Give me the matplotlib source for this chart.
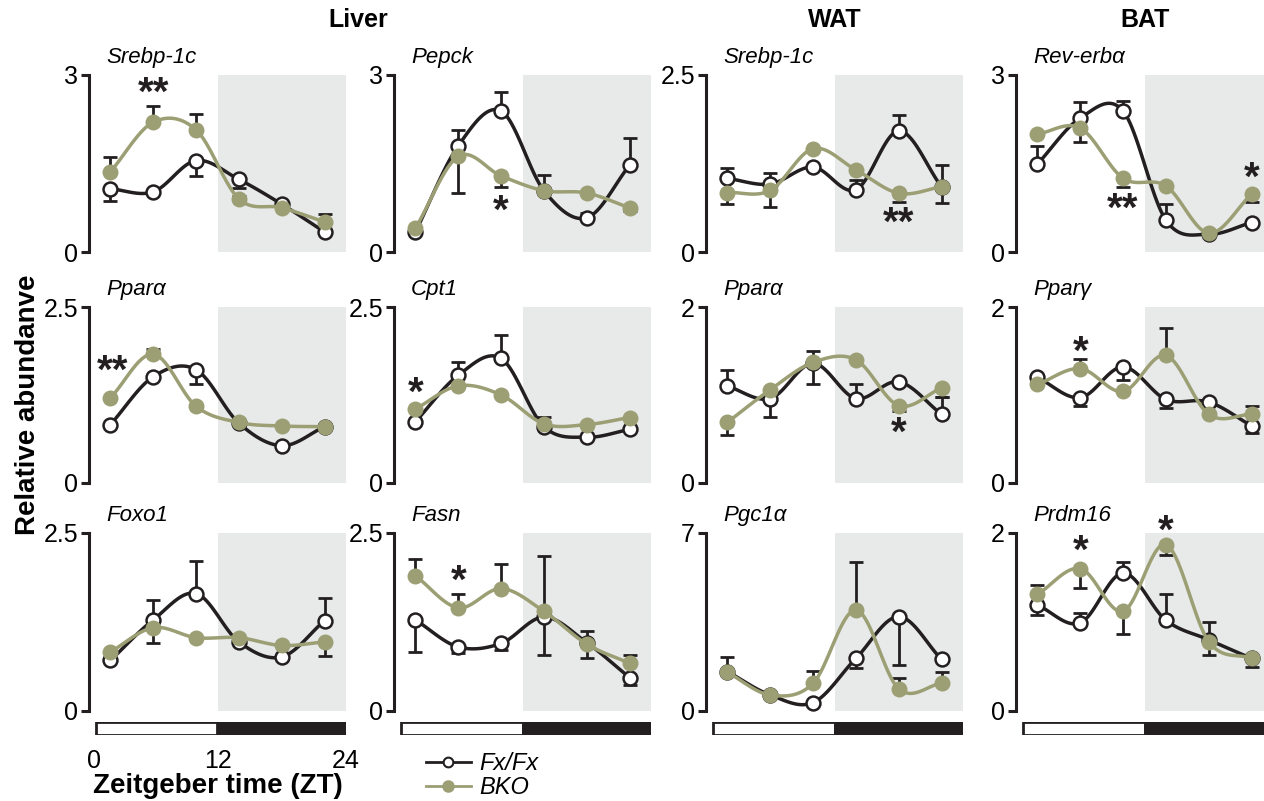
import matplotlib
matplotlib.use("Agg")
import matplotlib.pyplot as plt
from matplotlib.lines import Line2D
import matplotlib.transforms as mtransforms
import numpy as np

plt.rcParams['font.family'] = ['Liberation Sans', 'DejaVu Sans']

# sampling times (ZT)
zt = [2, 6, 10, 14, 18, 22]

# panel layout: rows x cols
genes = [["Srebp-1c", "Pepck", "Srebp-1c", "Rev-erbα"],
         ["Pparα", "Cpt1", "Pparα", "Pparγ"],
         ["Foxo1", "Fasn", "Pgc1α", "Prdm16"]]
ymax = [[3, 3, 2.5, 3],
        [2.5, 2.5, 2, 2],
        [2.5, 2.5, 7, 2]]
ytick_top = [["3", "3", "2.5", "3"],
             ["2.5", "2.5", "2", "2"],
             ["2.5", "2.5", "7", "2"]]

# Fx/Fx means
fx = [[[1.07, 1.02, 1.55, 1.23, 0.81, 0.34],
       [0.34, 1.80, 2.39, 1.04, 0.58, 1.47],
       [1.04, 0.96, 1.20, 0.88, 1.71, 0.92],
       [1.49, 2.27, 2.39, 0.54, 0.30, 0.50]],
      [[0.83, 1.51, 1.61, 0.85, 0.53, 0.80],
       [0.87, 1.53, 1.77, 0.80, 0.65, 0.76],
       [1.10, 0.96, 1.36, 0.96, 1.15, 0.78],
       [1.20, 0.97, 1.32, 0.95, 0.92, 0.65]],
      [[0.71, 1.28, 1.65, 0.97, 0.76, 1.27],
       [1.28, 0.90, 0.95, 1.32, 0.96, 0.47],
       [1.55, 0.63, 0.33, 2.07, 3.71, 2.03],
       [1.19, 0.99, 1.55, 1.02, 0.80, 0.59]]]
# Fx/Fx one-sided error (positive = drawn up, negative = drawn down)
fx_err = [[[-0.20, 0, -0.27, -0.15, -0.05, 0],
           [0, 0.27, 0.33, 0.27, 0.08, 0.47],
           [0.15, 0.15, 0, 0.14, 0.23, 0.31],
           [0.30, 0.27, 0.17, 0.27, 0, 0]],
          [[0, 0, -0.20, 0, 0, 0],
           [0, 0.19, 0.33, 0.14, 0, 0],
           [0.18, -0.21, -0.24, 0.16, 0, 0.20],
           [0, -0.09, -0.15, -0.10, 0, -0.08]],
          [[0, 0.28, 0.45, 0, 0, 0.32],
           [-0.45, -0.09, -0.09, -0.54, -0.22, -0.10],
           [0.59, 0, 0, -0.37, -1.90, 0],
           [-0.11, 0.11, 0.12, 0.29, -0.17, -0.09]]]

# BKO means
bko = [[[1.36, 2.20, 2.07, 0.90, 0.75, 0.51],
        [0.40, 1.62, 1.29, 1.04, 1.00, 0.75],
        [0.84, 0.87, 1.46, 1.16, 0.83, 0.92],
        [2.00, 2.10, 1.25, 1.12, 0.32, 0.98]],
       [[1.21, 1.83, 1.09, 0.86, 0.81, 0.80],
        [1.05, 1.38, 1.25, 0.84, 0.83, 0.93],
        [0.69, 1.06, 1.37, 1.40, 0.88, 1.08],
        [1.12, 1.30, 1.04, 1.45, 0.78, 0.78]],
       [[0.83, 1.17, 1.03, 1.03, 0.92, 0.97],
        [1.90, 1.45, 1.72, 1.40, 0.94, 0.67],
        [1.52, 0.63, 1.09, 3.97, 0.87, 1.09],
        [1.31, 1.60, 1.12, 1.87, 0.78, 0.59]]]
bko_err = [[[0.25, 0.28, 0.27, 0.05, 0, 0.13],
            [0, -0.62, -0.19, 0, 0, -0.06],
            [-0.16, -0.24, 0, 0, -0.13, -0.23],
            [0, -0.23, -0.14, 0, 0, -0.14]],
           [[0, 0.08, 0, 0, 0, 0],
            [0, 0, 0, 0, 0, 0],
            [-0.14, 0, 0.13, 0, -0.06, -0.10],
            [0, 0.11, 0, 0.31, 0, 0.09]],
           [[0, -0.22, 0, 0, 0, -0.20],
            [0.23, 0.20, 0.34, 0.77, 0.18, 0.11],
            [0, 0, 0.50, 1.90, 0.42, 0.43],
            [0.11, -0.22, -0.25, -0.12, 0.22, 0]]]

# significance marks: (row, col, ZT, y, text)
stars = [(0, 0, 6, 2.80, "**"), (0, 1, 10, 0.80, "*"), (0, 2, 18, 0.50, "**"),
         (0, 3, 10, 0.84, "**"), (0, 3, 22, 1.36, "*"),
         (1, 0, 2.2, 1.68, "**"), (1, 1, 2, 1.37, "*"), (1, 2, 18, 0.64, "*"),
         (1, 3, 6, 1.56, "*"),
         (2, 1, 6, 1.91, "*"), (2, 3, 6, 1.87, "*"), (2, 3, 14, 2.09, "*")]

BLACK = "#231f20"
OLIVE = "#9c9e74"
SHADE = "#e8eaea"

W, H = 1264, 801
fig = plt.figure(figsize=(W / 100, H / 100), dpi=100)


def px_axes(l, t, r, b):
    return fig.add_axes([l / W, 1 - b / H, (r - l) / W, (b - t) / H])


def smooth(x, y, n=24):
    # Catmull-Rom curve through the points (drawing only)
    x = np.asarray(x, float)
    y = np.asarray(y, float)
    yp = np.concatenate([[2 * y[0] - y[1]], y, [2 * y[-1] - y[-2]]])
    xs, ys = [], []
    t = np.linspace(0, 1, n, endpoint=False)
    for i in range(len(x) - 1):
        p0, p1, p2, p3 = yp[i], yp[i + 1], yp[i + 2], yp[i + 3]
        seg = 0.5 * (2 * p1 + (-p0 + p2) * t + (2 * p0 - 5 * p1 + 4 * p2 - p3) * t ** 2
                     + (-p0 + 3 * p1 - 3 * p2 + p3) * t ** 3)
        xs.append(x[i] + (x[i + 1] - x[i]) * t)
        ys.append(seg)
    xs.append([x[-1]])
    ys.append([y[-1]])
    return np.concatenate(xs), np.concatenate(ys)


def one_sided(err):
    err = np.asarray(err, float)
    return np.vstack([np.where(err < 0, -err, 0), np.where(err > 0, err, 0)])


col_x0 = [89, 394, 706, 1016]
col_w = 257
row_y = [(75, 252), (307, 483), (533, 711)]

axes = {}
for r in range(3):
    for c in range(4):
        t, b = row_y[r]
        ax = px_axes(col_x0[c], t, col_x0[c] + col_w, b)
        axes[(r, c)] = ax
        ax.set_facecolor("none")
        ax.set_xlim(0, 24)
        ax.set_ylim(0, ymax[r][c])
        ax.axvspan(12, 24, color=SHADE, zorder=0, lw=0)
        for s in ["top", "right", "bottom"]:
            ax.spines[s].set_visible(False)
        ax.spines["left"].set_linewidth(2.2)
        ax.spines["left"].set_color(BLACK)
        ax.set_xticks([])
        ax.set_yticks([0, ymax[r][c]])
        ax.set_yticklabels(["0", ytick_top[r][c]])
        ax.tick_params(axis="y", length=6, width=2.2, color=BLACK, labelsize=18, pad=2)

        ax.errorbar(zt, fx[r][c], yerr=one_sided(fx_err[r][c]), fmt="none",
                    ecolor=BLACK, elinewidth=2, capsize=5, capthick=2, zorder=2)
        ax.errorbar(zt, bko[r][c], yerr=one_sided(bko_err[r][c]), fmt="none",
                    ecolor=BLACK, elinewidth=2, capsize=5, capthick=2, zorder=2)
        sx, sy = smooth(zt, fx[r][c])
        ax.plot(sx, sy, color=BLACK, lw=2.5, zorder=3, clip_on=False)
        ax.plot(zt, fx[r][c], "o", ms=10, mfc="white", mec=BLACK, mew=1.8,
                zorder=4, clip_on=False)
        sx, sy = smooth(zt, bko[r][c])
        ax.plot(sx, sy, color=OLIVE, lw=2.5, zorder=5, clip_on=False)
        ax.plot(zt, bko[r][c], "o", ms=11.5, mfc=OLIVE, mec=OLIVE, mew=0,
                zorder=6, clip_on=False)

        trans = mtransforms.blended_transform_factory(ax.transData, ax.transAxes)
        ax.text(1.6, 1.1, genes[r][c], transform=trans, fontsize=16,
                style="italic", va="center", ha="left")

for r, c, x, y, s in stars:
    axes[(r, c)].annotate(s, (x, y), xytext=(0, -5), textcoords="offset points",
                          fontsize=29, fontweight="bold", ha="center", va="center",
                          color=BLACK, zorder=7, annotation_clip=False)

# light/dark bars under bottom row
for c in range(4):
    bx = px_axes(col_x0[c], 722, col_x0[c] + col_w, 735)
    bx.set_xlim(0, 24)
    bx.set_ylim(-0.5, 0.5)
    bx.barh([0], [11.35], left=0.65, height=1, color="white", edgecolor=BLACK,
            linewidth=2)
    bx.barh([0], [12], left=12, height=1, color=BLACK, edgecolor=BLACK, linewidth=2)
    for s in bx.spines.values():
        s.set_visible(False)
    bx.set_yticks([])
    if c == 0:
        bx.set_xticks([0.5, 12, 24])
        bx.set_xticklabels(["0", "12", "24"])
        bx.tick_params(axis="x", length=0, labelsize=18, pad=10)
        bx.set_xlabel("Zeitgeber time (ZT)", fontsize=20, fontweight="bold", labelpad=0)
    else:
        bx.set_xticks([])

fig.text(28 / W, 1 - 405 / H, "Relative abundanve", rotation=90, fontsize=20,
         fontweight="bold", ha="center", va="center")
fig.text(358 / W, 1 - 20 / H, "Liver", fontsize=18, fontweight="bold", ha="center", va="center")
fig.text(835 / W, 1 - 20 / H, "WAT", fontsize=18, fontweight="bold", ha="center", va="center")
fig.text(1145 / W, 1 - 20 / H, "BAT", fontsize=18, fontweight="bold", ha="center", va="center")

handles = [Line2D([], [], color=BLACK, lw=2, marker="o", ms=7, mfc="white", mec=BLACK, mew=1.5),
           Line2D([], [], color=OLIVE, lw=2, marker="o", ms=8, mfc=OLIVE, mec=OLIVE)]
fig.legend(handles, ["Fx/Fx", "BKO"], loc="upper left",
           bbox_to_anchor=(426 / W, 1 - 752 / H), frameon=False, handlelength=1.9,
           handletextpad=0.35, labelspacing=0.05, borderpad=0, borderaxespad=0,
           prop=dict(style="italic", size=17))

fig.savefig("out.png", dpi=100)
